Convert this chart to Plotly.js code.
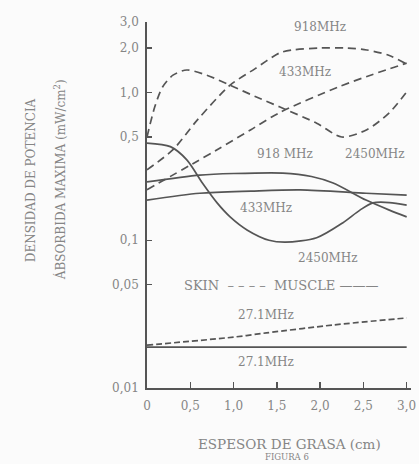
<!DOCTYPE html>
<html>
<head>
<meta charset="utf-8">
<script src="https://cdn.plot.ly/plotly-3.0.1.min.js"></script>
<style>html,body{margin:0;padding:0;background:#fbfbfb;}#chart{width:419px;height:464px;}</style>
</head>
<body>
<div id="chart"></div>
<script>
// Fat thickness (cm) and max absorbed power density (mW/cm^2)
const skin2450_x = [0, 0.09, 0.18, 0.30, 0.46, 0.69, 0.96, 1.25, 1.53, 1.96, 2.25, 2.54, 2.80, 3.0];
const skin2450_y = [0.50, 0.80, 1.09, 1.31, 1.42, 1.31, 1.12, 0.94, 0.80, 0.62, 0.50, 0.56, 0.73, 1.01];

const skin918_x = [0, 0.3, 0.58, 0.96, 1.25, 1.53, 1.68, 2.0, 2.3, 2.54, 2.8, 3.0];
const skin918_y = [0.30, 0.41, 0.65, 1.12, 1.45, 1.85, 1.94, 2.0, 2.0, 1.94, 1.78, 1.56];

const skin433_x = [0, 0.53, 0.81, 1.2, 1.53, 2.21, 2.6, 3.0];
const skin433_y = [0.22, 0.33, 0.41, 0.56, 0.73, 1.09, 1.32, 1.58];

const skin27_x = [0, 1.0, 1.38, 2.15, 3.0];
const skin27_y = [0.0195, 0.0221, 0.0236, 0.0267, 0.0298];

const muscle2450_x = [0, 0.27, 0.46, 0.64, 0.81, 0.96, 1.16, 1.41, 1.6, 1.96, 2.26, 2.46, 2.61, 2.8, 3.0];
const muscle2450_y = [0.455, 0.43, 0.35, 0.244, 0.179, 0.144, 0.117, 0.100, 0.097, 0.104, 0.131, 0.160, 0.179, 0.180, 0.173];

const muscle918_x = [0, 0.61, 1.0, 1.57, 1.9, 2.15, 2.53, 2.8, 3.0];
const muscle918_y = [0.248, 0.276, 0.283, 0.285, 0.27, 0.244, 0.187, 0.160, 0.144];

const muscle433_x = [0, 0.61, 1.2, 1.77, 2.53, 3.0];
const muscle433_y = [0.187, 0.208, 0.215, 0.219, 0.208, 0.202];

const muscle27_x = [0, 3.0];
const muscle27_y = [0.0189, 0.0189];

const xTickVals = [0, 0.5, 1.0, 1.5, 2.0, 2.5, 3.0];
const xTickText = ["0", "0,5", "1,0", "1,5", "2,0", "2,5", "3,0"];
const yTickVals = [0.01, 0.05, 0.1, 0.5, 1.0, 2.0, 3.0];
const yTickText = ["0,01", "0,05", "0,1", "0,5", "1,0", "2,0", "3,0"];
const yMinorVals = [0.03, 0.04, 0.06, 0.07, 0.08, 0.09];

const LINE = "#555";
const TXT = "#858585";
const FONT = "DejaVu Serif, Liberation Serif, serif";

function tr(x, y, dash, w) {
  return {x: x, y: y, type: "scatter", mode: "lines",
    line: {color: LINE, width: w || 1.7, dash: dash, shape: "spline", smoothing: 0.8},
    hoverinfo: "skip", showlegend: false};
}

const data = [
  tr(skin2450_x, skin2450_y, "8px,5px"),
  tr(skin918_x, skin918_y, "8px,5px"),
  tr(skin433_x, skin433_y, "8px,5px"),
  tr(skin27_x, skin27_y, "6px,3px"),
  tr(muscle2450_x, muscle2450_y, "solid"),
  tr(muscle918_x, muscle918_y, "solid"),
  tr(muscle433_x, muscle433_y, "solid"),
  tr(muscle27_x, muscle27_y, "solid")
];

function lab(text, x, ly, size) {
  return {text: text, x: x, y: ly, xref: "x", yref: "y", showarrow: false,
    font: {family: FONT, size: size || 12, color: TXT}};
}

const annotations = [
  lab("918MHz", 2.0, 0.443),
  lab("433MHz", 1.82, 0.138),
  lab("918 MHz", 1.59, -0.417),
  lab("2450MHz", 2.63, -0.417),
  lab("433MHz", 1.38, -0.782),
  lab("2450MHz", 2.09, -1.120),
  lab("SKIN  – – – –  MUSCLE ———", 1.55, -1.303, 13),
  lab("27.1MHz", 1.38, -1.506),
  lab("27.1MHz", 1.38, -1.824),
  {text: "DENSIDAD DE POTENCIA", xref: "paper", yref: "paper", x: -0.473, y: 0.568,
   textangle: -90, showarrow: false, font: {family: FONT, size: 12, color: TXT}},
  {text: "ÁBSORBIDA MAXIMA (mW/cm<sup>2</sup>)", xref: "paper", yref: "paper", x: -0.367, y: 0.568,
   textangle: -90, showarrow: false, font: {family: FONT, size: 12, color: TXT}},
  {text: "ESPESOR DE GRASA (cm)", xref: "paper", yref: "paper", x: 0.54, y: -0.152, yanchor: "middle",
   showarrow: false, font: {family: FONT, size: 13.5, color: TXT}},
  {text: "FIGURA 6", xref: "paper", yref: "paper", x: 0.53, y: -0.2075, yanchor: "bottom",
   showarrow: false, font: {family: FONT, size: 8.5, color: TXT}}
];

const layout = {
  width: 419, height: 464,
  margin: {l: 147, r: 8, t: 22, b: 76},
  paper_bgcolor: "#fbfbfb", plot_bgcolor: "#fbfbfb",
  showlegend: false,
  xaxis: {range: [0, 3.05], showgrid: false, zeroline: false, showline: true,
    linecolor: LINE, linewidth: 1.8, ticks: "inside", ticklen: 6, tickcolor: LINE, tickwidth: 1.5,
    tickvals: xTickVals, ticktext: xTickText, ticklabelstandoff: 6,
    tickfont: {family: FONT, size: 12, color: TXT}},
  yaxis: {type: "log", range: [-2, Math.log10(3.0)], showgrid: false, zeroline: false, showline: true,
    linecolor: LINE, linewidth: 1.8, ticks: "inside", ticklen: 5, tickcolor: LINE, tickwidth: 1.5,
    tickvals: yTickVals, ticktext: yTickText, ticklabelstandoff: 4,
    tickfont: {family: FONT, size: 12, color: TXT}},
  yaxis2: {type: "log", range: [-2, Math.log10(3.0)], overlaying: "y", anchor: "x", side: "left",
    showgrid: false, zeroline: false, showline: false, showticklabels: false,
    ticks: "inside", ticklen: 5, tickcolor: LINE, tickwidth: 1.5, tickvals: yMinorVals},
  annotations: annotations
};

Plotly.newPlot("chart", data, layout, {staticPlot: true, displayModeBar: false});
</script>
</body>
</html>
